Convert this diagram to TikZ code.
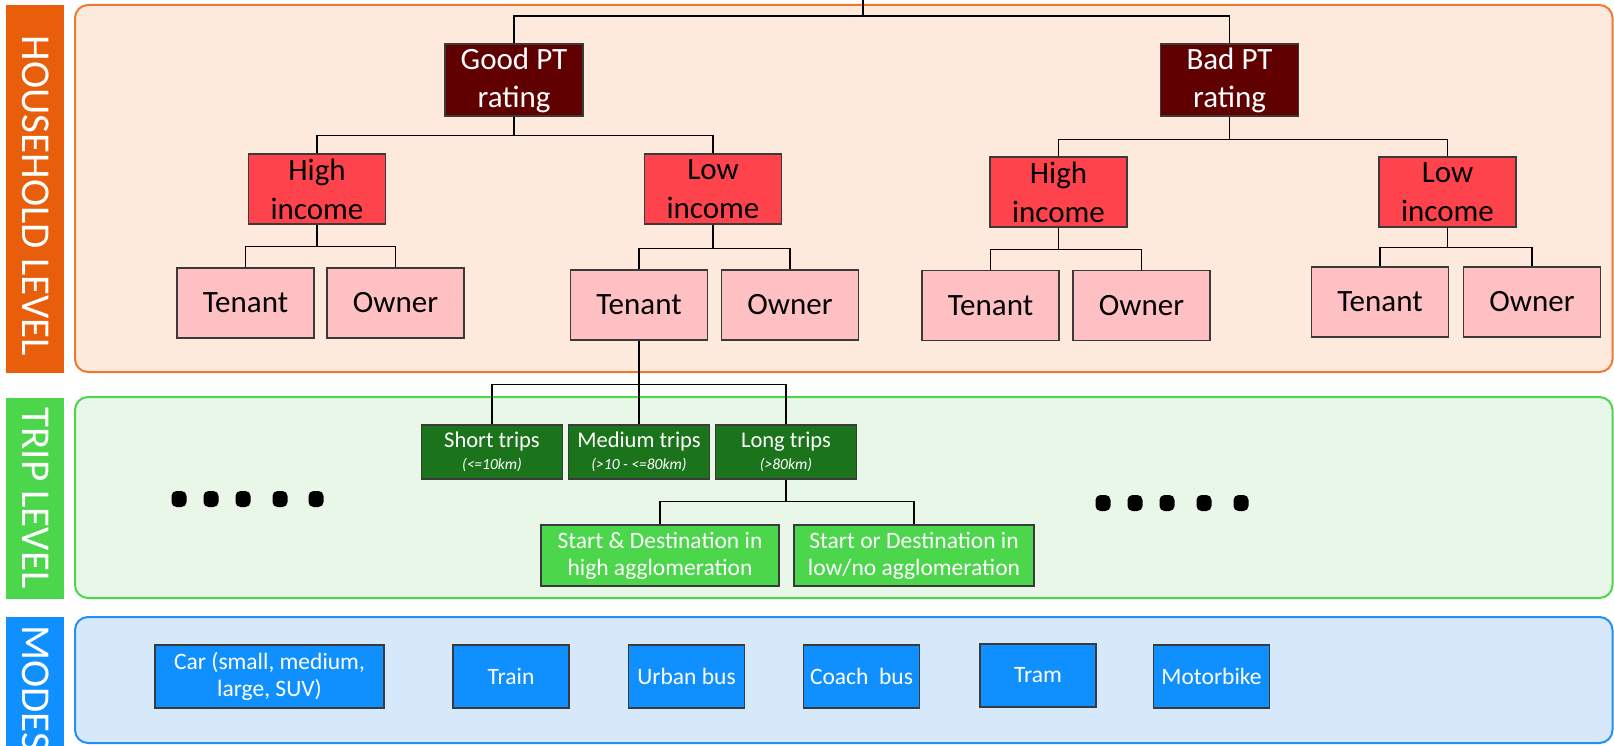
\documentclass[tikz,border=0pt]{standalone}
\usepackage{fontspec}
\setmainfont{Carlito}
\usepackage{xcolor}
\usepackage{tikz}
\definecolor{hh_orange}{HTML}{E85E0A}
\definecolor{hh_edge}{HTML}{EE7A30}
\definecolor{hh_fill}{HTML}{FDEADC}
\definecolor{trip_green}{HTML}{4BD64B}
\definecolor{trip_fill}{HTML}{E8F7E8}
\definecolor{mode_blue}{HTML}{1090FF}
\definecolor{mode_edge}{HTML}{2290F5}
\definecolor{mode_fill}{HTML}{D5E9FB}
\definecolor{pt_maroon}{HTML}{600000}
\definecolor{income_red}{HTML}{FF434C}
\definecolor{tenure_pink}{HTML}{FFC0C3}
\definecolor{dist_green}{HTML}{1B731B}
\definecolor{box_edge}{HTML}{3A3A3A}

\begin{document}
\begin{tikzpicture}[x=1pt, y=-1pt, every node/.style={inner sep=0, align=center}]
            % Styles
            \tikzstyle{panel} = [rounded corners=13, line width=2]
            \tikzstyle{bartext} = [text=white, rotate=-90, font=\fontsize{41}{45}\selectfont]
            \tikzstyle{ptbox} = [rectangle, draw=box_edge, line width=1.2, fill=pt_maroon, text=white, minimum width=138, minimum height=72, font=\fontsize{31}{38}\selectfont]
            \tikzstyle{incomebox} = [rectangle, draw=box_edge, line width=1.2, fill=income_red, minimum width=137, minimum height=70, font=\fontsize{31}{39}\selectfont]
            \tikzstyle{tenurebox} = [rectangle, draw=box_edge, line width=1.2, fill=tenure_pink, minimum width=137, minimum height=70, font=\fontsize{31}{37}\selectfont]
            \tikzstyle{distbox} = [rectangle, draw=box_edge, line width=1.2, fill=dist_green, text=white, minimum width=141, minimum height=54, font=\fontsize{22.5}{23}\selectfont]
            \tikzstyle{agglobox} = [rectangle, draw=box_edge, line width=1.2, fill=trip_green, text=white, minimum height=61, font=\fontsize{23.5}{27}\selectfont]
            \tikzstyle{modebox} = [rectangle, draw=box_edge, line width=1.2, fill=mode_blue, text=white, minimum width=116, minimum height=63, font=\fontsize{23.5}{26.5}\selectfont]
            \tikzstyle{link} = [line width=1.5, black]

            \useasboundingbox (0,0) rectangle (1614,746);

            % Levels
            \fill[hh_orange] (6,5) rectangle (64,373);
            \draw[panel, draw=hh_edge, fill=hh_fill] (75,5) rectangle (1612.5,372);
            \fill[trip_green] (6,398) rectangle (64,599);
            \draw[panel, draw=trip_green, fill=trip_fill] (75,397) rectangle (1612.5,598);
            \fill[mode_blue] (6,617) rectangle (64,760);
            \draw[panel, draw=mode_edge, fill=mode_fill] (75,617) rectangle (1612.5,743);
            \node[bartext] (hhlabel) at (36,196) {HOUSEHOLD LEVEL};
            \node[bartext] (triplabel) at (36,498) {TRIP LEVEL};
            \node[bartext, anchor=west] (modelabel) at (36,625) {MODES};

            % Nodes: PT rating
            \node[ptbox] (gpt) at (514,80) {Good PT\\rating};
            \node[ptbox] (bpt) at (1229.5,80) {Bad PT\\rating};

            % Nodes: income
            \node[incomebox] (hig) at (317,189) {High\\income};
            \node[incomebox] (lig) at (713,189) {Low\\income};
            \node[incomebox] (hib) at (1058.5,192) {High\\income};
            \node[incomebox] (lib) at (1447.5,192) {Low\\income};

            % Nodes: tenant / owner
            \node[tenurebox] (tgh) at (245.5,303) {Tenant};
            \node[tenurebox] (ogh) at (395.5,303) {Owner};
            \node[tenurebox] (tgl) at (639,305) {Tenant};
            \node[tenurebox] (ogl) at (790,305) {Owner};
            \node[tenurebox] (tbh) at (990.5,305.5) {Tenant};
            \node[tenurebox] (obh) at (1141.5,305.5) {Owner};
            \node[tenurebox] (tbl) at (1380,302) {Tenant};
            \node[tenurebox] (obl) at (1532,302) {Owner};

            % Nodes: trip distance
            \node[distbox] (short) at (492,452) {Short trips\\[-1pt]{\fontsize{15.5}{16}\selectfont\itshape (<=10km)}};
            \node[distbox] (medium) at (639,452) {Medium trips\\[-1pt]{\fontsize{15.5}{16}\selectfont\itshape (>10 - <=80km)}};
            \node[distbox] (long) at (786,452) {Long trips\\[-1pt]{\fontsize{15.5}{16}\selectfont\itshape (>80km)}};
            \node[agglobox, minimum width=238] (highagg) at (660,555.5) {Start \& Destination in\\high agglomeration};
            \node[agglobox, minimum width=240] (lowagg) at (914,555.5) {Start or Destination in\\low/no agglomeration};

            % Nodes: modes
            \node[modebox, minimum width=229] (car) at (269.5,676.5) {Car (small, medium,\\large, SUV)};
            \node[modebox] (train) at (511,676.5) {Train};
            \node[modebox] (ubus) at (686.5,676.5) {Urban bus};
            \node[modebox] (cbus) at (861.5,676.5) {Coach\ \ bus};
            \node[modebox] (tram) at (1038,675.5) {Tram};
            \node[modebox] (mbike) at (1211.5,676.5) {Motorbike};

            % Dots
            \foreach \x in {179,211,243,280,316}
                \fill[rounded corners=5] (\x-7.5,491) rectangle (\x+7.5,507);
            \foreach \x in {1103,1135,1167,1204,1241}
                \fill[rounded corners=5] (\x-7.5,495) rectangle (\x+7.5,511);

            % Edges: household tree
            \coordinate (root) at (863,0);
            \coordinate (rootj) at (863,16);
            \draw[link] (root) -- (rootj) -| (gpt.north);
            \draw[link] (rootj) -| (bpt.north);
            \draw[link] (gpt.south) -- ++(0,19) -| (hig.north);
            \draw[link] (gpt.south) -- ++(0,19) -| (lig.north);
            \draw[link] (bpt.south) -- ++(0,23) -| (hib.north);
            \draw[link] (bpt.south) -- ++(0,23) -| (lib.north);
            \draw[link] (hig.south) -- ++(0,22) -| (tgh.north);
            \draw[link] (hig.south) -- ++(0,22) -| (ogh.north);
            \draw[link] (lig.south) -- ++(0,24) -| (tgl.north);
            \draw[link] (lig.south) -- ++(0,24) -| (ogl.north);
            \draw[link] (hib.south) -- ++(0,22) -| (tbh.north);
            \draw[link] (hib.south) -- ++(0,22) -| (obh.north);
            \draw[link] (lib.south) -- ++(0,20) -| (tbl.north);
            \draw[link] (lib.south) -- ++(0,20) -| (obl.north);

            % Edges: trip tree
            \draw[link] (tgl.south) -- ++(0,44) -| (short.north);
            \draw[link] (tgl.south) -- (medium.north);
            \draw[link] (tgl.south) -- ++(0,44) -| (long.north);
            \draw[link] (long.south) -- ++(0,22) -| (highagg.north);
            \draw[link] (long.south) -- ++(0,22) -| (lowagg.north);
        \end{tikzpicture}
\end{document}
